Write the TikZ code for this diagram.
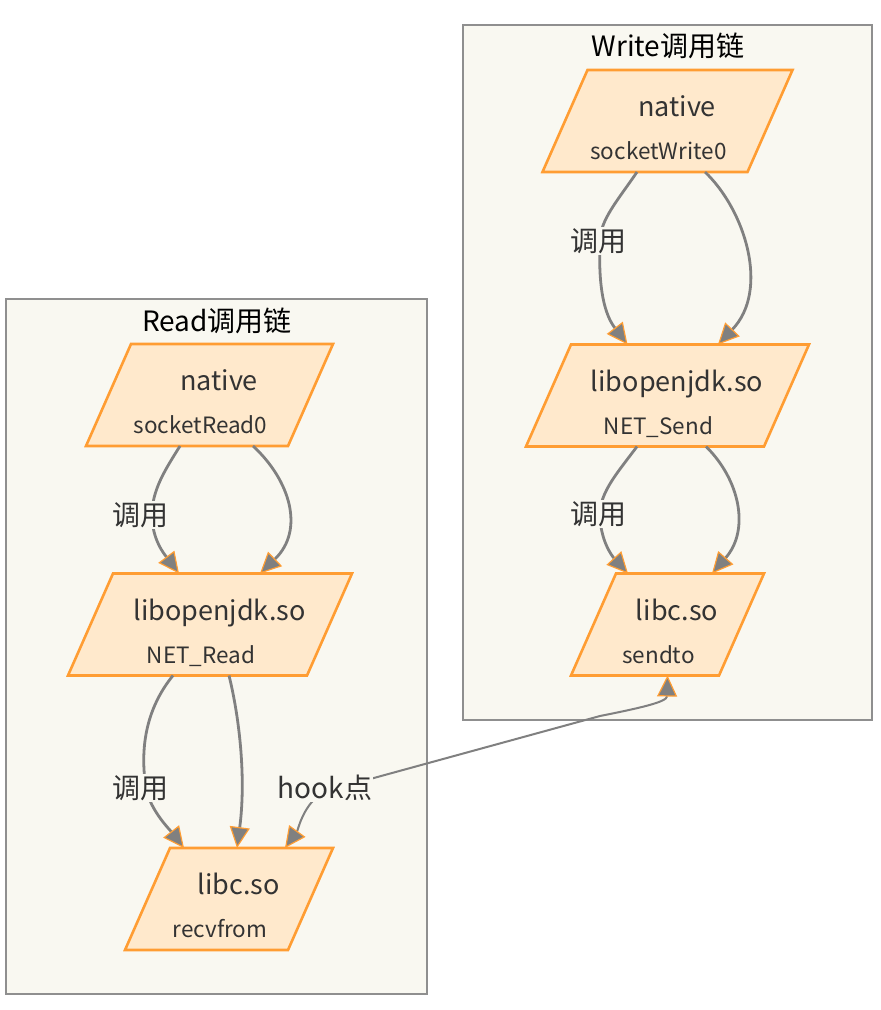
\documentclass[tikz,border=0pt]{standalone}
\usepackage{fontspec}
\setmainfont{Noto Sans CJK SC}
\usetikzlibrary{arrows.meta}
\definecolor{clbg}{HTML}{F9F8F1}
\definecolor{clbd}{HTML}{8F8F8F}
\definecolor{nfill}{HTML}{FFE9CC}
\definecolor{nbd}{HTML}{FF9D33}
\definecolor{egray}{HTML}{808080}
\definecolor{txt}{HTML}{333333}
\tikzset{
  cluster/.style={draw=clbd,fill=clbg,line width=1.3pt},
  parabox/.style={rectangle,draw=none,minimum height=102pt,inner sep=0pt,outer sep=0pt},
  paraline/.style={draw=nbd,fill=nfill,line width=2.6pt,line join=miter},
  maintxt/.style={anchor=base,text=txt,font=\fontsize{27}{31}\selectfont,inner sep=0pt},
  subtxt/.style={anchor=base,text=txt,font=\fontsize{22.5}{26}\selectfont,inner sep=0pt},
  elabel/.style={fill=clbg,text=txt,font=\fontsize{28}{32}\selectfont,inner sep=1pt},
  ctitle/.style={text=black,font=\fontsize{28}{32}\selectfont,inner sep=0pt},
  edge/.style={draw=egray,line width=2.8pt,
    -{Triangle[length=21pt,width=20pt,fill=egray,color=nbd,line width=1.2pt]}},
  hookedge/.style={draw=egray,line width=2pt,
    {Triangle[length=21pt,width=20pt,fill=egray,color=nbd,line width=1.2pt]}-{Triangle[length=21pt,width=20pt,fill=egray,color=nbd,line width=1.2pt]}},
}
\newcommand\drawpara[1]{%
  \draw[paraline] ([xshift=22.5pt]#1.north west) -- ([xshift=22.5pt]#1.north east)
    -- ([xshift=-22.5pt]#1.south east) -- ([xshift=-22.5pt]#1.south west) -- cycle;}
\begin{document}
\begin{tikzpicture}[x=1pt,y=-1pt]
\useasboundingbox (0,0) rectangle (881,1010);
% clusters
\draw[cluster] (6,299) rectangle (427,994);
\draw[cluster] (463,25) rectangle (872,720);
\node[ctitle] (tr) at (217,321) {Read调用链};
\node[ctitle] (tw) at (668,46) {Write调用链};
% nodes
\node[parabox,minimum width=202pt] (rn) at (209.5,395) {};
\node[parabox,minimum width=239pt] (rl) at (210,624.5) {};
\node[parabox,minimum width=163pt] (rc) at (229,899) {};
\node[parabox,minimum width=205pt] (wn) at (667.5,121) {};
\node[parabox,minimum width=238pt] (wl) at (667.5,395.5) {};
\node[parabox,minimum width=148pt] (wc) at (667.5,624.5) {};
\drawpara{rn}\drawpara{rl}\drawpara{rc}
\drawpara{wn}\drawpara{wl}\drawpara{wc}
% texts
\node[maintxt] (rnm) at ([shift={(9.5,-4.5)}]rn.center) {native};
\node[subtxt]  (rns) at ([shift={(-9,38.5)}]rn.center) {socketRead0};
\node[maintxt] (rlm) at ([shift={(9.5,-4.5)}]rl.center) {libopenjdk.so};
\node[subtxt]  (rls) at ([shift={(-9,38.5)}]rl.center) {NET\_Read};
\node[maintxt] (rcm) at ([shift={(9.5,-4.5)}]rc.center) {libc.so};
\node[subtxt]  (rcs) at ([shift={(-9,38.5)}]rc.center) {recvfrom};
\node[maintxt] (wnm) at ([shift={(9.5,-4.5)}]wn.center) {native};
\node[subtxt]  (wns) at ([shift={(-9,38.5)}]wn.center) {socketWrite0};
\node[maintxt] (wlm) at ([shift={(9.5,-4.5)}]wl.center) {libopenjdk.so};
\node[subtxt]  (wls) at ([shift={(-9,38.5)}]wl.center) {NET\_Send};
\node[maintxt] (wcm) at ([shift={(9.5,-4.5)}]wc.center) {libc.so};
\node[subtxt]  (wcs) at ([shift={(-9,38.5)}]wc.center) {sendto};
% edges Read
\draw[edge] ([xshift=-29.5]rn.south) .. controls (165,470) and (152,490) .. (152,515)
  .. controls (152,540) and (165,555) .. ([xshift=-31]rl.north);
\draw[edge] ([xshift=43.5]rn.south) .. controls (290,480) and (305,530) .. ([xshift=50]rl.north);
\draw[edge] ([xshift=-37]rl.south) .. controls (145,710) and (140,750) .. (146,788)
  .. controls (150,810) and (170,830) .. ([xshift=-45]rc.north);
\draw[edge] ([xshift=19]rl.south) .. controls (240,720) and (246,780) .. ([xshift=8]rc.north);
% edges Write
\draw[edge] ([xshift=-30.5]wn.south) .. controls (618,200) and (600,220) .. (600,241)
  .. controls (598,290) and (605,315) .. ([xshift=-40]wl.north);
\draw[edge] ([xshift=37.5]wn.south) .. controls (745,210) and (770,290) .. ([xshift=50.5]wl.north);
\draw[edge] ([xshift=-30.5]wl.south) .. controls (618,472) and (600,492) .. (600,514)
  .. controls (600,540) and (612,556) .. ([xshift=-39.5]wc.north);
\draw[edge] ([xshift=38.5]wl.south) .. controls (740,480) and (750,530) .. ([xshift=44.5]wc.north);
% hook edge
\draw[hookedge] (wc.south) .. controls (667,702) and (640,708) .. (600,716) -- (330,790)
  .. controls (305,797) and (298,830) .. ([xshift=56]rc.north);
% edge labels
\node[elabel] (l1) at (140,515) {调用};
\node[elabel] (l2) at (140,788) {调用};
\node[elabel] (l3) at (598,241) {调用};
\node[elabel] (l4) at (598,514) {调用};
\node[elabel] (l5) at (325,788) {hook点};
\end{tikzpicture}
\end{document}
